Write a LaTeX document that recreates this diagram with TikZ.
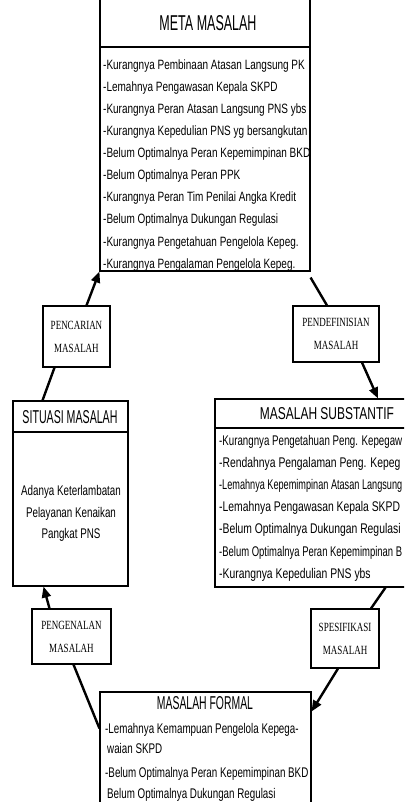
\documentclass[tikz,border=0pt]{standalone}
\usepackage{fontspec}
\usepackage{graphicx}
\usetikzlibrary{arrows.meta}
\setmainfont{Liberation Sans}
\newfontfamily\itemfont{Liberation Sans}[FakeStretch=0.74]
\newfontfamily\itemfontb{Liberation Sans}[FakeStretch=0.74]
\newfontfamily\itemfontc{Liberation Sans}[FakeStretch=0.7]
\newfontfamily\lblfont{Liberation Serif}[FakeStretch=0.72]
\newfontfamily\ttlfont{Liberation Sans}
\newcommand\mtitle[3]{\resizebox{#1pt}{#2pt}{\ttlfont #3}}
\newcommand\fitw[1]{\resizebox{183pt}{\height}{#1}}
\begin{document}
\begin{tikzpicture}[x=1pt,y=-1pt,
 box/.style={draw=black, line width=1.1pt, inner sep=0pt},
 lbl/.style={align=center, font=\lblfont\fontsize{12.5}{23}\selectfont},
 itm/.style={inner sep=0pt, anchor=base west, font=\itemfont\fontsize{13.5}{16}\selectfont},
 itmb/.style={itm, font=\itemfontb\fontsize{14}{16}\selectfont},
 itmf/.style={itm, font=\itemfontc\fontsize{14}{16}\selectfont},
 itmc/.style={inner sep=0pt, anchor=base, font=\itemfontc\fontsize{14}{16}\selectfont},
 ttl/.style={inner sep=0pt},
 arr/.style={line width=2.4pt, -{Triangle[length=11pt,width=9pt]}},
 lnk/.style={line width=2.4pt}]
\useasboundingbox (0,0) rectangle (404,802);
\fill[white] (0,0) rectangle (404,802);
\clip (0,0) rectangle (404,802);

% boxes
\node[box, minimum width=210, minimum height=281] (meta) at (205,130.5) {};
\draw[line width=1.1pt] (meta.west |- 0,47) -- (meta.east |- 0,47);
\node[box, minimum width=115, minimum height=185] (situ) at (70.5,493.5) {};
\draw[line width=1.1pt] (situ.west |- 0,432) -- (situ.east |- 0,432);
\node[box, minimum width=205, minimum height=188] (subst) at (317.5,493) {};
\draw[line width=1.1pt] (subst.west |- 0,428) -- (subst.east |- 0,428);
\node[box, minimum width=211, minimum height=123] (formal) at (205.5,753.5) {};

\node[box, lbl, minimum width=67, minimum height=61] (pencarian) at (76.5,336.5) {PENCARIAN\\MASALAH};
\node[box, lbl, minimum width=86, minimum height=56] (pendef) at (336,334) {PENDEFINISIAN\\MASALAH};
\node[box, lbl, minimum width=79, minimum height=55] (pengen) at (71.5,636.5) {PENGENALAN\\MASALAH};
\node[box, lbl, minimum width=68, minimum height=59] (spes) at (345,638.5) {SPESIFIKASI\\MASALAH};

% titles
\node[ttl] (metat) at (208,23) {\mtitle{97}{15}{META MASALAH}};
\node[ttl] (situt) at (70,417) {\mtitle{95}{13}{SITUASI MASALAH}};
\node[ttl] (substt) at (327,414) {\mtitle{134}{12}{MASALAH SUBSTANTIF}};
\node[ttl] (formalt) at (205,703) {\mtitle{96}{13}{MASALAH FORMAL}};

% meta items
\foreach \t [count=\i] in {
 -Kurangnya Pembinaan Atasan Langsung PK,
 -Lemahnya Pengawasan Kepala SKPD,
 -Kurangnya Peran Atasan Langsung PNS ybs,
 -Kurangnya Kepedulian PNS yg bersangkutan,
 -Belum Optimalnya Peran Kepemimpinan BKD,
 -Belum Optimalnya Peran PPK,
 -Kurangnya Peran Tim Penilai Angka Kredit,
 -Belum Optimalnya Dukungan Regulasi,
 -Kurangnya Pengetahuan Pengelola Kepeg.,
 -Kurangnya Pengalaman Pengelola Kepeg.}
 \node[itm] (m\i) at (103,48+22*\i) {\t};

% substantif items
\node[itmb] (s1) at (219,445) {\fitw{-Kurangnya Pengetahuan Peng. Kepegaw}};
\node[itmb] (s2) at (219,467.2) {-Rendahnya Pengalaman Peng. Kepeg};
\node[itmb] (s3) at (219,489.4) {\fitw{-Lemahnya Kepemimpinan Atasan Langsung}};
\node[itmb] (s4) at (219,511.6) {-Lemahnya Pengawasan Kepala SKPD};
\node[itmb] (s5) at (219,533.8) {-Belum Optimalnya Dukungan Regulasi};
\node[itmb] (s6) at (219,556) {\fitw{-Belum Optimalnya Peran Kepemimpinan B}};
\node[itmb] (s7) at (219,578.2) {-Kurangnya Kepedulian PNS ybs};

% situasi body
\node[itmc] (b1) at (71,495) {Adanya Keterlambatan};
\node[itmc] (b2) at (71,517) {Pelayanan Kenaikan};
\node[itmc] (b3) at (71,538) {Pangkat PNS};

% formal items
\node[itmf] (f1) at (105,733) {-Lemahnya Kemampuan Pengelola Kepega-};
\node[itmf] (f2) at (107,753) {waian SKPD};
\node[itmf] (f3) at (105,777) {-Belum Optimalnya Peran Kepemimpinan BKD};
\node[itmf] (f4) at (107,798) {Belum Optimalnya Dukungan Regulasi};

% connectors
\draw[arr] ([xshift=10pt]pencarian.north) -- (meta.south west);
\draw[lnk] ([yshift=-6pt]meta.south east) -- ([xshift=-9pt]pendef.north);
\draw[arr] ([xshift=26pt]pendef.south) -- ([xshift=60.5pt]subst.north);
\draw[lnk] ([xshift=68pt]subst.south) -- ([xshift=26pt]spes.north);
\draw[arr] ([xshift=-7pt]spes.south) -- ([yshift=-20pt]formal.north east);
\draw[lnk] ([yshift=-37pt]formal.north west) -- ([xshift=2pt]pengen.south);
\draw[arr] ([xshift=-22pt]pengen.north) -- ([xshift=-27pt]situ.south);
\draw[lnk] ([xshift=-28pt]situ.north) -- ([xshift=-22pt]pencarian.south);
\end{tikzpicture}
\end{document}
